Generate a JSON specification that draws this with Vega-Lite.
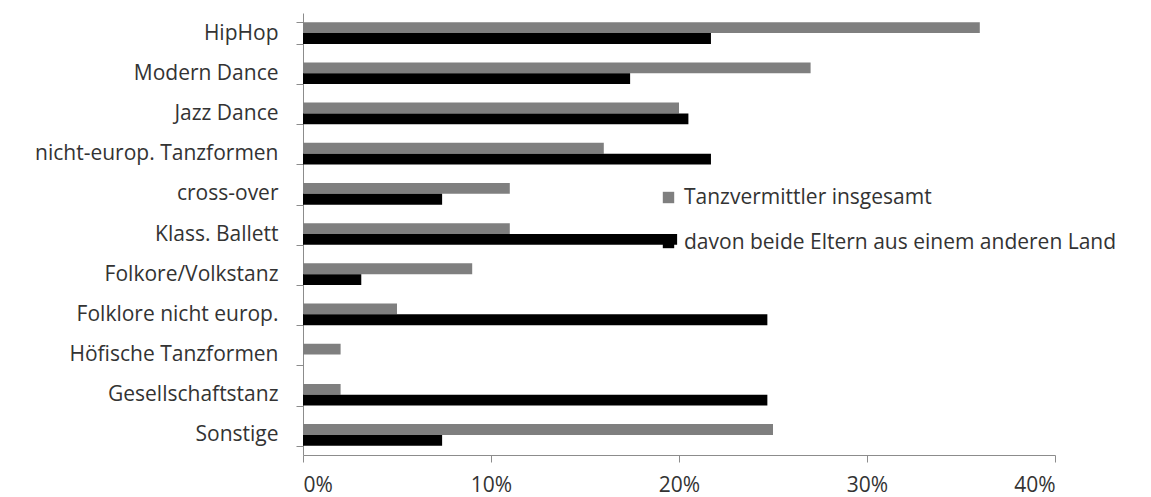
{
  "$schema": "https://vega.github.io/schema/vega-lite/v6.json",
  "width": 752,
  "height": 442,
  "autosize": {"type": "none"},
  "padding": {"left": 303, "top": 13, "right": 96, "bottom": 42},
  "background": "white",
  "config": {
    "view": {"stroke": null},
    "font": "Open Sans",
    "axis": {"labelFont": "Open Sans", "labelColor": "#333333", "labelFontSize": 21, "labelLimit": 400, "domainColor": "#8c8c8c", "tickColor": "#8c8c8c", "grid": false, "title": null}
  },
  "data": {
    "values": [
      {"kategorie": "HipHop", "gruppe": "Tanzvermittler insgesamt", "wert": 0.36},
      {"kategorie": "HipHop", "gruppe": "davon beide Eltern aus einem anderen Land", "wert": 0.217},
      {"kategorie": "Modern Dance", "gruppe": "Tanzvermittler insgesamt", "wert": 0.27},
      {"kategorie": "Modern Dance", "gruppe": "davon beide Eltern aus einem anderen Land", "wert": 0.174},
      {"kategorie": "Jazz Dance", "gruppe": "Tanzvermittler insgesamt", "wert": 0.2},
      {"kategorie": "Jazz Dance", "gruppe": "davon beide Eltern aus einem anderen Land", "wert": 0.205},
      {"kategorie": "nicht-europ. Tanzformen", "gruppe": "Tanzvermittler insgesamt", "wert": 0.16},
      {"kategorie": "nicht-europ. Tanzformen", "gruppe": "davon beide Eltern aus einem anderen Land", "wert": 0.217},
      {"kategorie": "cross-over", "gruppe": "Tanzvermittler insgesamt", "wert": 0.11},
      {"kategorie": "cross-over", "gruppe": "davon beide Eltern aus einem anderen Land", "wert": 0.074},
      {"kategorie": "Klass. Ballett", "gruppe": "Tanzvermittler insgesamt", "wert": 0.11},
      {"kategorie": "Klass. Ballett", "gruppe": "davon beide Eltern aus einem anderen Land", "wert": 0.199},
      {"kategorie": "Folkore/Volkstanz", "gruppe": "Tanzvermittler insgesamt", "wert": 0.09},
      {"kategorie": "Folkore/Volkstanz", "gruppe": "davon beide Eltern aus einem anderen Land", "wert": 0.031},
      {"kategorie": "Folklore nicht europ.", "gruppe": "Tanzvermittler insgesamt", "wert": 0.05},
      {"kategorie": "Folklore nicht europ.", "gruppe": "davon beide Eltern aus einem anderen Land", "wert": 0.247},
      {"kategorie": "Höfische Tanzformen", "gruppe": "Tanzvermittler insgesamt", "wert": 0.02},
      {"kategorie": "Höfische Tanzformen", "gruppe": "davon beide Eltern aus einem anderen Land", "wert": 0},
      {"kategorie": "Gesellschaftstanz", "gruppe": "Tanzvermittler insgesamt", "wert": 0.02},
      {"kategorie": "Gesellschaftstanz", "gruppe": "davon beide Eltern aus einem anderen Land", "wert": 0.247},
      {"kategorie": "Sonstige", "gruppe": "Tanzvermittler insgesamt", "wert": 0.25},
      {"kategorie": "Sonstige", "gruppe": "davon beide Eltern aus einem anderen Land", "wert": 0.074}
    ]
  },
  "mark": {"type": "bar"},
  "encoding": {
    "y": {
      "field": "kategorie",
      "type": "nominal",
      "sort": ["HipHop", "Modern Dance", "Jazz Dance", "nicht-europ. Tanzformen", "cross-over", "Klass. Ballett", "Folkore/Volkstanz", "Folklore nicht europ.", "Höfische Tanzformen", "Gesellschaftstanz", "Sonstige"],
      "scale": {"paddingInner": 0.46, "paddingOuter": 0.23},
      "axis": {"tickBand": "extent", "tickSize": 7, "labelPadding": 18, "domain": true}
    },
    "yOffset": {
      "field": "gruppe",
      "type": "nominal",
      "sort": ["Tanzvermittler insgesamt", "davon beide Eltern aus einem anderen Land"],
      "scale": {"paddingInner": 0, "paddingOuter": 0}
    },
    "x": {
      "field": "wert",
      "type": "quantitative",
      "scale": {"domain": [0, 0.4], "nice": false},
      "axis": {"format": ".0%", "values": [0, 0.1, 0.2, 0.3, 0.4], "tickSize": 7, "labelPadding": 12}
    },
    "color": {
      "field": "gruppe",
      "type": "nominal",
      "sort": ["Tanzvermittler insgesamt", "davon beide Eltern aus einem anderen Land"],
      "scale": {"range": ["#7f7f7f", "#000000"]},
      "legend": {
        "title": null,
        "orient": "none",
        "legendX": 355,
        "legendY": 174,
        "symbolType": "square",
        "symbolSize": 130,
        "symbolStrokeWidth": 0,
        "labelFont": "Open Sans",
        "labelFontSize": 21,
        "labelColor": "#333333",
        "labelOffset": 5,
        "rowPadding": 23,
        "labelLimit": 600
      }
    }
  }
}
